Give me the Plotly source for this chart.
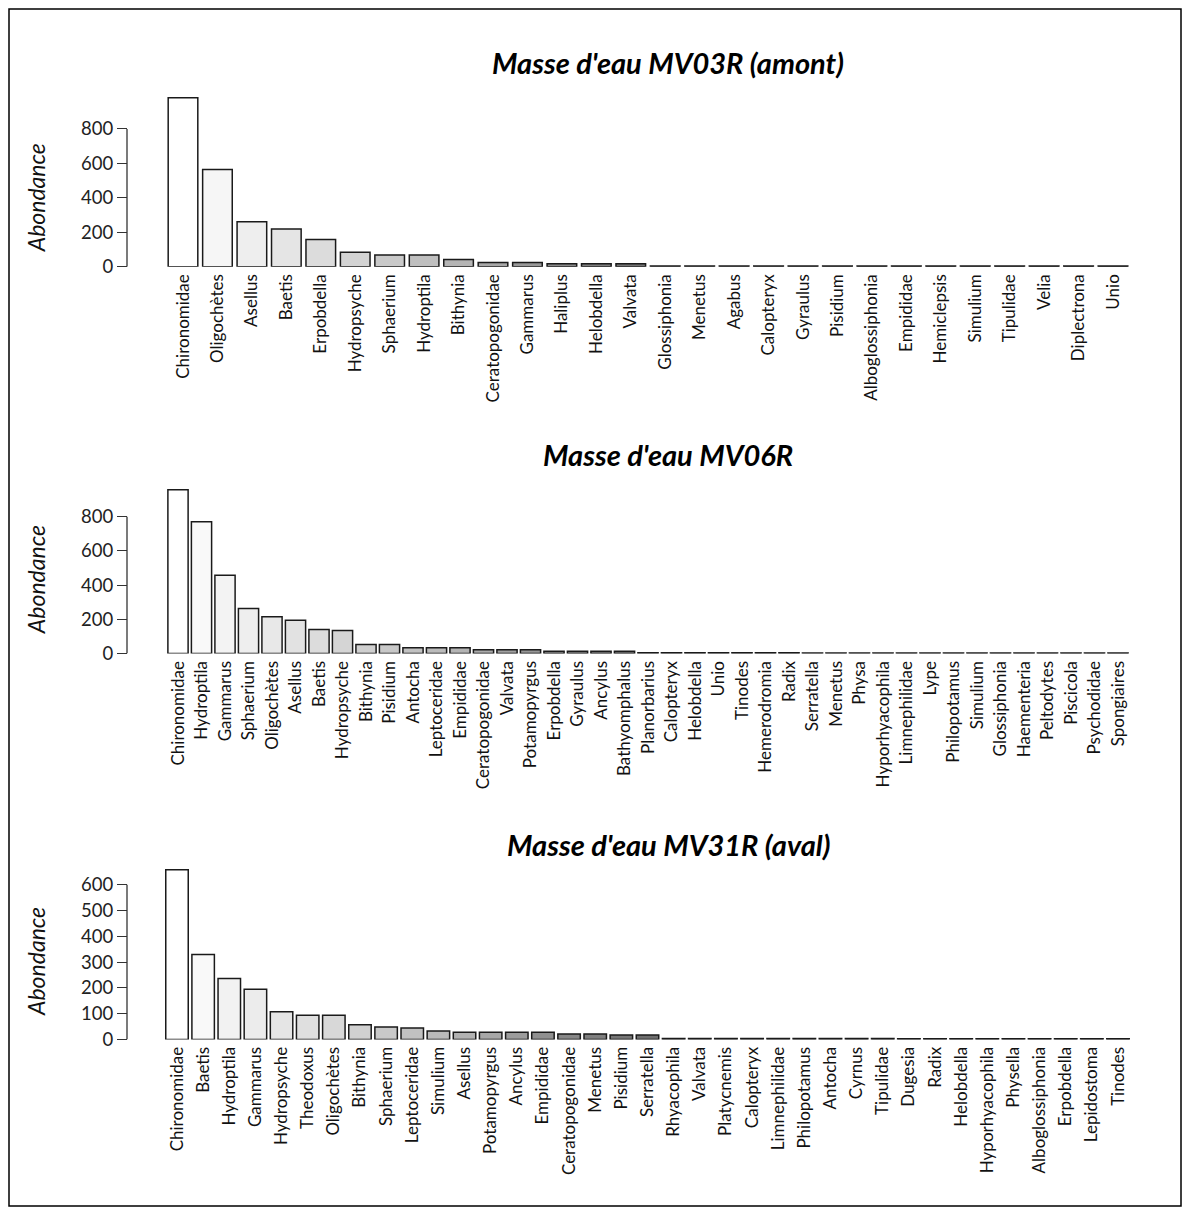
import plotly.graph_objects as go

# ---------------- data ----------------
titles = ["Masse d'eau MV03R (amont)", "Masse d'eau MV06R", "Masse d'eau MV31R (aval)"]

taxa_mv03 = ["Chironomidae", "Oligochètes", "Asellus", "Baetis", "Erpobdella", "Hydropsyche",
             "Sphaerium", "Hydroptila", "Bithynia", "Ceratopogonidae", "Gammarus", "Haliplus",
             "Helobdella", "Valvata", "Glossiphonia", "Menetus", "Agabus", "Calopteryx", "Gyraulus",
             "Pisidium", "Alboglossiphonia", "Empididae", "Hemiclepsis", "Simulium", "Tipulidae",
             "Velia", "Diplectrona", "Unio"]
abond_mv03 = [981, 565, 262, 220, 159, 84, 69, 69, 42, 25, 25, 18, 18, 18, 5, 5, 5, 5, 5,
              5, 4, 4, 4, 4, 4, 4, 4, 4]

taxa_mv06 = ["Chironomidae", "Hydroptila", "Gammarus", "Sphaerium", "Oligochètes", "Asellus",
             "Baetis", "Hydropsyche", "Bithynia", "Pisidium", "Antocha", "Leptoceridae", "Empididae",
             "Ceratopogonidae", "Valvata", "Potamopyrgus", "Erpobdella", "Gyraulus", "Ancylus",
             "Bathyomphalus", "Planorbarius", "Calopteryx", "Helobdella", "Unio", "Tinodes",
             "Hemerodromia", "Radix", "Serratella", "Menetus", "Physa", "Hyporhyacophila",
             "Limnephilidae", "Lype", "Philopotamus", "Simulium", "Glossiphonia", "Haementeria",
             "Peltodytes", "Piscicola", "Psychodidae", "Spongiaires"]
abond_mv06 = [958, 770, 458, 263, 216, 195, 141, 135, 53, 53, 34, 34, 34, 22, 22, 22, 13, 13, 13,
              13, 5, 5, 5, 5, 5, 5, 5, 4, 4, 4, 4, 4, 4, 4, 4, 4, 4, 4, 4, 4, 4]

taxa_mv31 = ["Chironomidae", "Baetis", "Hydroptila", "Gammarus", "Hydropsyche", "Theodoxus",
             "Oligochètes", "Bithynia", "Sphaerium", "Leptoceridae", "Simulium", "Asellus",
             "Potamopyrgus", "Ancylus", "Empididae", "Ceratopogonidae", "Menetus", "Pisidium",
             "Serratella", "Rhyacophila", "Valvata", "Platycnemis", "Calopteryx", "Limnephilidae",
             "Philopotamus", "Antocha", "Cyrnus", "Tipulidae", "Dugesia", "Radix", "Helobdella",
             "Hyporhyacophila", "Physella", "Alboglossiphonia", "Erpobdella", "Lepidostoma", "Tinodes"]
abond_mv31 = [658, 329, 236, 195, 107, 94, 94, 57, 48, 44, 33, 28, 28, 28, 28, 21, 21, 17, 17,
              4, 4, 4, 4, 4, 4, 4, 4, 4, 3, 3, 3, 3, 3, 3, 3, 3, 3]

yticks_mv03 = [0, 200, 400, 600, 800]
yticks_mv06 = [0, 200, 400, 600, 800]
yticks_mv31 = [0, 100, 200, 300, 400, 500, 600]

# ---------------- layout geometry (pixels) ----------------
W, H = 1184, 1220
FONT = "Lato"
GREY_RAMP = [[0, "#ffffff"], [0.15, "#dcdcdc"], [0.3, "#b4b4b4"], [0.4, "#8c8c8c"],
             [0.5, "#6e6e6e"], [1, "#000000"]]

panels = [
    dict(cats=taxa_mv03, vals=abond_mv03, ticks=yticks_mv03, ymax=1000,
         y_zero=269, y_top=95.3, c0=183, c1=1113, title_y=63, lab_y=200),
    dict(cats=taxa_mv06, vals=abond_mv06, ticks=yticks_mv06, ymax=1000,
         y_zero=659, y_top=486.5, c0=178, c1=1118, title_y=458, lab_y=585),
    dict(cats=taxa_mv31, vals=abond_mv31, ticks=yticks_mv31, ymax=680,
         y_zero=1048, y_top=871.2, c0=177, c1=1118, title_y=851, lab_y=970),
]
AXIS_X = 127

fig = go.Figure()
shapes = []
annotations = []

for i, p in enumerate(panels):
    n = len(p["cats"])
    k = "" if i == 0 else str(i + 1)
    pitch = (p["c1"] - p["c0"]) / (n - 1)
    left = p["c0"] - pitch / 2
    right = p["c1"] + pitch / 2
    fig.add_trace(go.Bar(
        x=p["cats"], y=p["vals"], xaxis="x" + k, yaxis="y" + k,
        marker=dict(color=list(range(n)), cmin=0, cmax=n - 1, colorscale=GREY_RAMP,
                    line=dict(color="#1a1a1a", width=1.5)),
        showlegend=False, hoverinfo="x+y",
    ))
    fig.update_layout(**{
        "xaxis" + k: dict(domain=[left / W, right / W], anchor="y" + k, type="category",
                          range=[-0.5, n - 0.5], tickangle=-90, showgrid=False, showline=False,
                          zeroline=False, ticks="", ticklabelstandoff=3,
                          tickfont=dict(family=FONT, size=17, color="#111")),
        "yaxis" + k: dict(domain=[1 - p["y_zero"] / H, 1 - p["y_top"] / H], anchor="free",
                          position=AXIS_X / W, range=[0, p["ymax"]], tickvals=p["ticks"],
                          ticks="outside", ticklen=10, tickwidth=1.3, tickcolor="#333",
                          showgrid=False, showline=False, zeroline=False,
                          tickfont=dict(family=FONT, size=18.5, color="#222")),
    })
    shapes.append(dict(type="line", xref="paper", yref="y" + k, x0=AXIS_X / W, x1=AXIS_X / W,
                       y0=p["ticks"][0], y1=p["ticks"][-1], line=dict(color="#333", width=1.3)))
    annotations.append(dict(text="<b><i>" + titles[i] + "</i></b>", xref="paper", yref="paper",
                            x=668 / W, y=1 - p["title_y"] / H, showarrow=False,
                            font=dict(family=FONT, size=29, color="#000"),
                            xanchor="center", yanchor="middle"))
    annotations.append(dict(text="<i>Abondance</i>", xref="paper", yref="paper",
                            x=36 / W, y=1 - p["lab_y"] / H, showarrow=False, textangle=-90,
                            font=dict(family=FONT, size=23, color="#111"),
                            xanchor="center", yanchor="middle"))

# outer frame
shapes.append(dict(type="rect", xref="paper", yref="paper", x0=9 / W, x1=1181 / W,
                   y0=1 - 1216 / H, y1=1 - 9 / H, line=dict(color="#000", width=1.5)))

fig.update_layout(width=W, height=H, margin=dict(l=0, r=0, t=0, b=0), autosize=False,
                  paper_bgcolor="white", plot_bgcolor="white", bargap=0.14,
                  shapes=shapes, annotations=annotations, font=dict(family=FONT))

fig.write_html("out.html")
